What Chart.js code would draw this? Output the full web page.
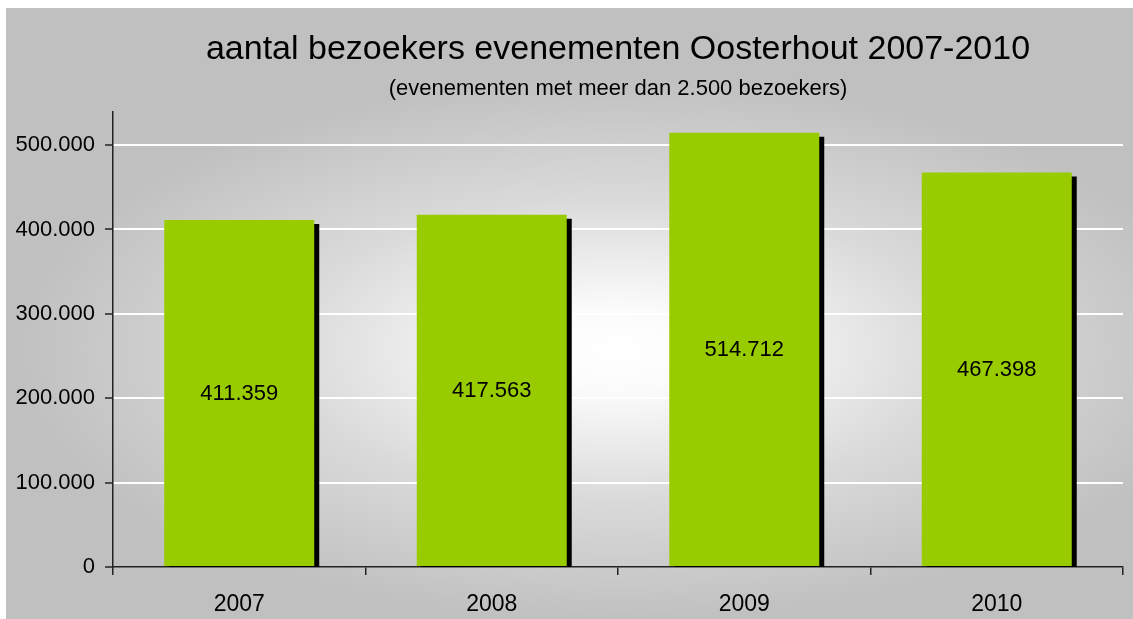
<!DOCTYPE html>
<html>
<head>
<meta charset="utf-8">
<script src="https://cdn.jsdelivr.net/npm/chart.js@4.4.0/dist/chart.umd.min.js"></script>
<style>
  html, body { margin: 0; padding: 0; background: #ffffff; overflow: hidden; }
  canvas { display: block; }
</style>
</head>
<body>
<canvas id="canvas" width="1133" height="619"></canvas>
<script>
var years = ['2007', '2008', '2009', '2010'];
var visitors = [411359, 417563, 514712, 467398];
var yTicks = [0, 100000, 200000, 300000, 400000, 500000];

function fmt(v) {
  return String(v).replace(/\B(?=(\d{3})+(?!\d))/g, '.');
}

var FONT = '"Liberation Sans", Arial, sans-serif';

// grey backdrop (white strip top/left) with a light spot in the plot area
var backdrop = {
  id: 'backdrop',
  beforeDraw: function(chart) {
    var ctx = chart.ctx, a = chart.chartArea;
    ctx.save();
    ctx.fillStyle = '#ffffff';
    ctx.fillRect(0, 0, chart.width, chart.height);
    ctx.beginPath();
    ctx.rect(6, 8, chart.width - 6, chart.height - 8);
    ctx.clip();
    ctx.fillStyle = '#c0c0c0';
    ctx.fillRect(6, 8, chart.width - 6, chart.height - 8);
    var cx = (a.left + a.right) / 2, cy = (a.top + a.bottom) / 2 + 10;
    var sx = (a.right - a.left) / (a.bottom - a.top);
    ctx.translate(cx, cy);
    ctx.scale(sx, 1);
    var r = (a.bottom - a.top) * 0.6;
    var g = ctx.createRadialGradient(0, 0, 0, 0, 0, r);
    g.addColorStop(0, '#ffffff');
    g.addColorStop(0.15, '#fbfbfb');
    g.addColorStop(0.55, '#dadada');
    g.addColorStop(1, '#c0c0c0');
    ctx.fillStyle = g;
    ctx.fillRect(-r, -r, 2 * r, 2 * r);
    ctx.restore();
  }
};

// hard black drop shadow behind the bars, values written inside
var barShadow = {
  id: 'barShadow',
  beforeDatasetsDraw: function(chart) {
    var ctx = chart.ctx, a = chart.chartArea;
    ctx.save();
    ctx.beginPath();
    ctx.rect(a.left, a.top - 20, a.right - a.left, a.bottom - a.top + 20);
    ctx.clip();
    ctx.shadowColor = '#000000';
    ctx.shadowBlur = 0;
    ctx.shadowOffsetX = 5;
    ctx.shadowOffsetY = 4;
  },
  afterDatasetsDraw: function(chart) {
    var ctx = chart.ctx;
    ctx.restore();
    ctx.save();
    ctx.fillStyle = '#000000';
    ctx.font = '22px ' + FONT;
    ctx.textAlign = 'center';
    ctx.textBaseline = 'middle';
    chart.getDatasetMeta(0).data.forEach(function(bar, i) {
      ctx.fillText(fmt(visitors[i]), bar.x, (bar.y + bar.base) / 2 + 1);
    });
    ctx.restore();
  }
};

window.onload = function() {
  var ctx = document.getElementById('canvas').getContext('2d');
  window.myBar = new Chart(ctx, {
    type: 'bar',
    data: {
      labels: years,
      datasets: [{
        label: 'bezoekers',
        data: visitors,
        backgroundColor: '#99cc00',
        borderWidth: 0,
        categoryPercentage: 1,
        barPercentage: 0.594
      }]
    },
    options: {
      responsive: false,
      animation: false,
      layout: { padding: { right: 10, left: 0, top: 0, bottom: 0 } },
      plugins: {
        legend: { display: false },
        tooltip: { enabled: false },
        title: {
          display: true,
          fullSize: false,
          text: 'aantal bezoekers evenementen Oosterhout 2007-2010',
          color: '#000000',
          font: { family: FONT, size: 34, weight: 'normal' },
          padding: { top: 29, bottom: 4 }
        },
        subtitle: {
          display: true,
          fullSize: false,
          text: '(evenementen met meer dan 2.500 bezoekers)',
          color: '#000000',
          font: { family: FONT, size: 22, weight: 'normal' },
          padding: { top: 2, bottom: 10 }
        }
      },
      scales: {
        x: {
          grid: { display: true, drawOnChartArea: false, offset: true, tickLength: 8, color: '#222222', lineWidth: 1.5 },
          border: { display: true, color: '#222222', width: 1.5 },
          ticks: { color: '#000000', font: { family: FONT, size: 23 }, padding: 16 },
          afterFit: function(s) { s.height = 52; }
        },
        y: {
          min: 0,
          max: 539000,
          afterBuildTicks: function(s) {
            s.ticks = yTicks.map(function(v) { return { value: v }; });
          },
          grid: {
            color: function(c) { return c.tick && c.tick.value === 0 ? 'rgba(0,0,0,0)' : '#ffffff'; },
            lineWidth: 2,
            tickColor: '#222222',
            tickWidth: 1.5,
            tickLength: 8
          },
          border: { display: true, color: '#222222', width: 1.5 },
          ticks: {
            color: '#000000',
            font: { family: FONT, size: 22 },
            padding: 10,
            callback: function(v) { return fmt(v); }
          },
          afterFit: function(s) { s.width = 113; }
        }
      }
    },
    plugins: [backdrop, barShadow]
  });
};
</script>
</body>
</html>
